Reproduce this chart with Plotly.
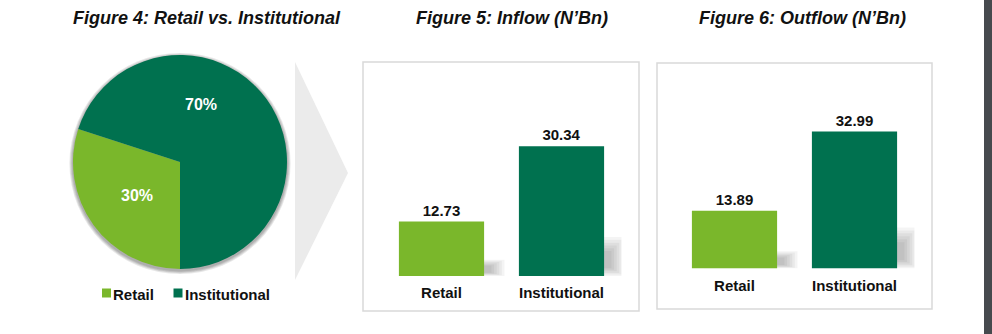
import plotly.graph_objects as go

# ---- data ----
pie_labels = ["Retail", "Institutional"]
pie_values = [30, 70]
bar_categories = ["Retail", "Institutional"]
inflow_values = [12.73, 30.34]
outflow_values = [13.89, 32.99]
titles = ["Figure 4: Retail vs. Institutional", "Figure 5: Inflow (N’Bn)", "Figure 6: Outflow (N’Bn)"]

LIGHT = "#7AB72B"
DARK = "#00714F"
colors = [LIGHT, DARK]
FONT = "Arial, 'Liberation Sans', sans-serif"
W, H = 992, 334
BARGAP = 0.29


def px(x):
    return x / W


def py(y):
    return 1 - y / H


fig = go.Figure()

fig.add_trace(go.Pie(
    labels=pie_labels, values=pie_values, sort=False, direction="clockwise",
    rotation=180, marker=dict(colors=colors, line=dict(width=0)),
    textinfo="none", hoverinfo="label+percent", showlegend=False,
    domain=dict(x=[px(73), px(287)], y=[py(269), py(55)]),
))

fig.add_trace(go.Bar(
    x=bar_categories, y=inflow_values, marker=dict(color=colors, line=dict(width=0)),
    texttemplate="%{y:.2f}", textposition="outside", cliponaxis=False,
    textfont=dict(family=FONT, size=15, color="#111111", weight="bold"),
    xaxis="x", yaxis="y", showlegend=False,
))
fig.add_trace(go.Bar(
    x=bar_categories, y=outflow_values, marker=dict(color=colors, line=dict(width=0)),
    texttemplate="%{y:.2f}", textposition="outside", cliponaxis=False,
    textfont=dict(family=FONT, size=15, color="#111111", weight="bold"),
    xaxis="x2", yaxis="y2", showlegend=False,
))

axis_font = dict(family=FONT, size=15, color="#111111", weight="bold")
fig.update_layout(
    width=W, height=H, margin=dict(l=0, r=0, t=0, b=0),
    paper_bgcolor="white", plot_bgcolor="rgba(0,0,0,0)",
    bargap=BARGAP, showlegend=False,
    xaxis=dict(domain=[px(381.5), px(621.5)], range=[-0.5, 1.5], showgrid=False,
               zeroline=False, showline=False, ticks="", tickfont=axis_font,
               ticklabelstandoff=6),
    yaxis=dict(domain=[py(276), py(276) + 40 * 4.28 / H], range=[0, 40], visible=False),
    xaxis2=dict(domain=[px(674.5), px(914.5)], range=[-0.5, 1.5], showgrid=False,
                zeroline=False, showline=False, ticks="", tickfont=axis_font, anchor="y2",
                ticklabelstandoff=6),
    yaxis2=dict(domain=[py(268.5), py(268.5) + 40 * 4.15 / H], range=[0, 40], visible=False,
                anchor="x2"),
)

shapes = [
    # chevron arrow
    dict(type="path", xref="paper", yref="paper",
         path=f"M {px(295)},{py(62)} L {px(348)},{py(173)} L {px(295)},{py(280)} Z",
         fillcolor="#EBEBEB", line=dict(width=0), layer="below"),
    # panel boxes
    dict(type="rect", xref="paper", yref="paper", x0=px(363), x1=px(639), y0=py(311), y1=py(62),
         line=dict(color="#D9D9D9", width=1.5), layer="below"),
    dict(type="rect", xref="paper", yref="paper", x0=px(657), x1=px(932), y0=py(309), y1=py(63),
         line=dict(color="#D9D9D9", width=1.5), layer="below"),
    # right dark stripe
    dict(type="rect", xref="paper", yref="paper", x0=px(984), x1=1, y0=0, y1=1,
         fillcolor="#464A4E", line=dict(width=0)),
    # legend squares
    dict(type="rect", xref="paper", yref="paper", x0=px(102), x1=px(111), y0=py(297.5), y1=py(288.5),
         fillcolor=LIGHT, line=dict(width=0)),
    dict(type="rect", xref="paper", yref="paper", x0=px(173.5), x1=px(182.5), y0=py(297.5), y1=py(288.5),
         fillcolor=DARK, line=dict(width=0)),
]

# soft pie shadow (layered translucent circles behind the pie)
cx, cy, r = 180, 163.5, 107
for k in range(1, 5):
    rr = r + k * 0.9
    shapes.append(dict(type="circle", xref="paper", yref="paper",
                       x0=px(cx - rr), x1=px(cx + rr), y0=py(cy + rr), y1=py(cy - rr),
                       fillcolor="rgba(0,0,0,0.09)", line=dict(width=0), layer="below"))

# soft bar shadows (layered translucent rectangles, derived from bar values)
half = (1 - BARGAP) / 2
for xa, ya, vals in (("x", "y", inflow_values), ("x2", "y2", outflow_values)):
    for i, v in enumerate(vals):
        n = 6
        for j in range(n):
            f = 1 - j / n
            shapes.append(dict(type="rect", xref=xa, yref=ya,
                               x0=i - half + 0.1, x1=i + half + 0.04 + 0.13 * f,
                               y0=v * 0.012 * j, y1=v * (0.17 + 0.13 * f),
                               fillcolor="rgba(0,0,0,0.045)", line=dict(width=0),
                               layer="below"))
fig.update_layout(shapes=shapes)

ann = []
title_x = [207, 512, 802]
for t, x in zip(titles, title_x):
    ann.append(dict(text=f"<b><i>{t}</i></b>", x=px(x), y=py(18), xref="paper", yref="paper",
                    showarrow=False, xanchor="center", yanchor="middle",
                    font=dict(family=FONT, size=18, color="#111111")))
# pie percentage labels
pct_pos = [(137, 195.5), (201, 104)]
for v, (x, y) in zip(pie_values, pct_pos):
    ann.append(dict(text=f"<b>{v}%</b>", x=px(x), y=py(y), xref="paper", yref="paper",
                    showarrow=False, xanchor="center", yanchor="middle",
                    font=dict(family=FONT, size=16, color="white")))
# legend labels
leg_x = [111, 182.5]
for lab, x in zip(pie_labels, leg_x):
    ann.append(dict(text=f"<b>{lab}</b>", x=px(x), y=py(294), xref="paper", yref="paper",
                    showarrow=False, xanchor="left", yanchor="middle",
                    font=dict(family=FONT, size=15, color="#111111")))
fig.update_layout(annotations=ann)

fig.write_html("out.html")
